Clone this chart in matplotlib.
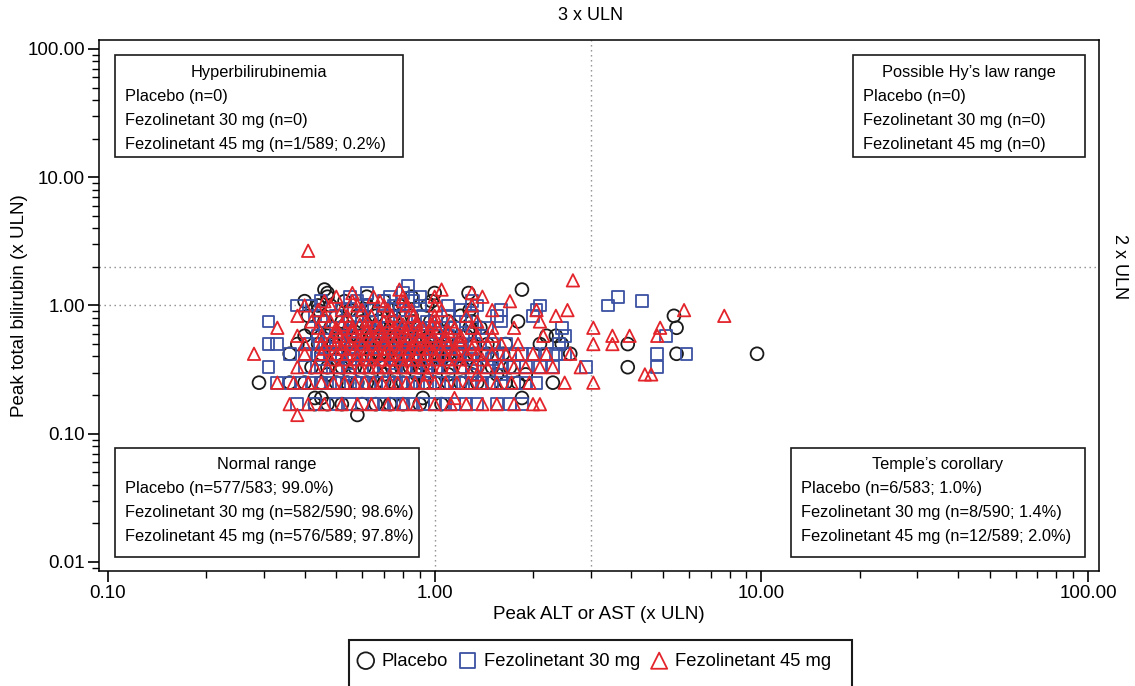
import matplotlib
matplotlib.use("Agg")
import matplotlib.pyplot as plt
from matplotlib.patches import Rectangle
from matplotlib.ticker import LogLocator, FuncFormatter, NullFormatter

plt.rcParams["font.family"] = ["Liberation Sans", "DejaVu Sans"]

# Peak values, grouped by bilirubin level: (y, [x, ...])
placebo = [
    (0.14, [0.58]),
    (0.17, [0.43, 0.47, 0.52, 0.60, 0.66, 0.73, 0.80, 0.90, 1.05]),
    (0.19, [0.43, 0.45, 0.92, 1.85]),
    (0.25, [0.29, 0.36, 0.40, 0.45, 0.50, 0.54, 0.58, 0.62, 0.66, 0.70, 0.75, 0.80,
            0.86, 0.93, 1.0, 1.1, 1.2, 1.35, 1.5, 1.65, 1.8, 2.3]),
    (0.29, [0.47, 0.55, 0.70, 0.88, 1.1, 1.3, 1.55, 1.9]),
    (0.33, [0.42, 0.47, 0.52, 0.57, 0.61, 0.65, 0.70, 0.74, 0.79, 0.84, 0.90, 0.96,
            1.03, 1.12, 1.22, 1.35, 1.5, 1.7, 3.9]),
    (0.38, [0.50, 0.62, 0.75, 0.90, 1.05, 1.25]),
    (0.42, [0.36, 0.45, 0.50, 0.55, 0.60, 0.64, 0.68, 0.72, 0.77, 0.82, 0.88, 0.95,
            1.02, 1.1, 1.2, 1.32, 1.45, 1.62, 2.6, 5.5, 9.7]),
    (0.46, [0.55, 0.70, 0.85, 1.0]),
    (0.50, [0.38, 0.44, 0.49, 0.54, 0.59, 0.63, 0.68, 0.73, 0.78, 0.84, 0.91, 0.98,
            1.07, 1.18, 1.3, 1.45, 1.65, 2.1, 2.45, 3.9]),
    (0.54, [0.60, 0.80, 0.95]),
    (0.58, [0.40, 0.47, 0.53, 0.58, 0.64, 0.70, 0.76, 0.83, 0.91, 1.0, 1.1, 1.25, 1.4,
            2.2, 2.35]),
    (0.67, [0.42, 0.48, 0.55, 0.62, 0.68, 0.75, 0.82, 0.90, 1.0, 1.12, 1.28, 1.38, 5.5]),
    (0.75, [0.46, 0.52, 0.60, 0.68, 0.76, 0.86, 0.97, 1.1, 1.3, 1.8]),
    (0.83, [0.41, 0.50, 0.58, 0.66, 0.75, 0.85, 1.2, 5.4]),
    (0.92, [0.44, 0.55, 0.64, 0.74, 1.28]),
    (1.00, [0.44, 0.48, 0.62, 0.78, 0.95]),
    (1.08, [0.40, 0.53, 0.70, 0.98]),
    (1.17, [0.47, 0.62, 0.85]),
    (1.25, [0.47, 1.0, 1.27]),
    (1.33, [0.46, 1.85]),
]

fezo30 = [
    (0.17, [0.38, 0.43, 0.50, 0.55, 0.60, 0.65, 0.70, 0.75, 0.80, 0.86, 0.92, 1.0,
            1.08, 1.15, 1.25, 1.35, 1.55, 1.7, 1.85]),
    (0.25, [0.33, 0.36, 0.39, 0.42, 0.45, 0.48, 0.51, 0.54, 0.57, 0.60, 0.63, 0.66,
            0.69, 0.72, 0.75, 0.79, 0.83, 0.87, 0.92, 0.97, 1.03, 1.09, 1.15, 1.22,
            1.3, 1.4, 1.5, 1.6, 1.75, 1.9, 2.05]),
    (0.29, [0.55, 0.75, 0.95, 1.3, 1.6]),
    (0.33, [0.31, 0.40, 0.45, 0.50, 0.55, 0.60, 0.65, 0.70, 0.76, 0.82, 0.88, 0.95,
            1.02, 1.1, 1.2, 1.3, 1.45, 1.6, 1.75, 1.9, 2.1, 2.3, 2.9, 4.8]),
    (0.38, [0.45, 0.55, 0.65, 0.75, 0.86, 0.98, 1.12, 1.3, 1.5]),
    (0.42, [0.36, 0.40, 0.44, 0.48, 0.52, 0.56, 0.60, 0.65, 0.70, 0.75, 0.80, 0.86,
            0.93, 1.0, 1.08, 1.17, 1.28, 1.4, 1.55, 1.7, 1.85, 2.0, 2.2, 2.35, 2.5,
            4.8, 5.9]),
    (0.46, [0.50, 0.60, 0.70, 0.80, 0.92, 1.05, 1.2]),
    (0.50, [0.31, 0.33, 0.41, 0.46, 0.51, 0.56, 0.61, 0.66, 0.72, 0.78, 0.85, 0.92,
            1.0, 1.1, 1.2, 1.32, 1.5, 1.65, 2.4]),
    (0.54, [0.47, 0.57, 0.67, 0.78, 0.90, 1.04]),
    (0.58, [0.44, 0.50, 0.56, 0.62, 0.68, 0.75, 0.82, 0.90, 1.0, 1.1, 1.22, 1.4, 2.5, 5.1]),
    (0.63, [0.55, 0.66, 0.78, 0.92]),
    (0.67, [0.46, 0.52, 0.58, 0.65, 0.72, 0.80, 0.90, 1.0, 1.15, 1.3, 1.45, 2.45]),
    (0.75, [0.31, 0.45, 0.55, 0.63, 0.72, 0.82, 0.95, 1.05, 1.25, 1.6]),
    (0.83, [0.43, 0.50, 0.60, 0.70, 0.80, 0.92, 1.1, 1.3, 1.55, 2.0]),
    (0.92, [0.52, 0.64, 0.78, 1.2, 1.6, 2.05]),
    (1.00, [0.38, 0.42, 0.60, 0.75, 0.90, 1.1, 1.35, 2.1, 3.4]),
    (1.08, [0.45, 0.58, 0.70, 0.86, 1.3, 4.3]),
    (1.17, [0.55, 0.73, 0.90, 3.65]),
    (1.25, [0.62, 0.80]),
    (1.42, [0.83]),
]

fezo45 = [
    (0.14, [0.38]),
    (0.17, [0.36, 0.41, 0.46, 0.52, 0.58, 0.64, 0.72, 0.80, 0.88, 1.0, 1.12, 1.25,
            1.4, 1.55, 1.75, 2.0, 2.1]),
    (0.19, [1.15]),
    (0.25, [0.33, 0.37, 0.41, 0.45, 0.49, 0.53, 0.57, 0.61, 0.65, 0.69, 0.73, 0.77,
            0.82, 0.87, 0.93, 1.0, 1.08, 1.17, 1.27, 1.4, 1.55, 1.72, 1.95, 2.5, 3.06]),
    (0.29, [0.95, 1.35, 4.4, 4.6]),
    (0.33, [0.38, 0.43, 0.47, 0.51, 0.55, 0.59, 0.63, 0.67, 0.71, 0.75, 0.80, 0.85,
            0.91, 0.98, 1.05, 1.13, 1.22, 1.32, 1.45, 1.6, 1.75, 1.9, 2.1, 2.3, 2.8]),
    (0.38, [0.48, 0.53, 0.58, 0.63, 0.68, 0.73, 0.79, 0.85, 0.92, 1.0, 1.1, 1.2, 1.4]),
    (0.42, [0.28, 0.40, 0.45, 0.50, 0.54, 0.58, 0.62, 0.66, 0.70, 0.74, 0.78, 0.83,
            0.88, 0.94, 1.0, 1.07, 1.15, 1.25, 1.35, 1.5, 1.65, 1.8, 2.0, 2.2, 2.6]),
    (0.46, [0.46, 0.52, 0.57, 0.62, 0.67, 0.72, 0.78, 0.84, 0.90, 0.97, 1.05, 1.15, 1.3]),
    (0.50, [0.40, 0.45, 0.50, 0.55, 0.60, 0.65, 0.70, 0.75, 0.81, 0.87, 0.94, 1.02,
            1.1, 1.2, 1.32, 1.45, 1.6, 1.8, 3.06, 3.5]),
    (0.54, [0.48, 0.53, 0.59, 0.64, 0.70, 0.76, 0.83, 0.90, 0.98, 1.08, 1.2]),
    (0.58, [0.38, 0.45, 0.51, 0.57, 0.63, 0.69, 0.75, 0.82, 0.90, 0.99, 1.08, 1.2,
            1.35, 1.5, 2.15, 3.5, 3.95, 4.8]),
    (0.63, [0.50, 0.56, 0.62, 0.68, 0.74, 0.81, 0.89, 0.97, 1.1]),
    (0.67, [0.33, 0.44, 0.50, 0.56, 0.62, 0.68, 0.75, 0.83, 0.92, 1.02, 1.15, 1.3,
            1.5, 1.75, 3.06, 4.9]),
    (0.71, [0.52, 0.59, 0.66, 0.73, 0.80, 0.88, 0.98]),
    (0.75, [0.42, 0.48, 0.55, 0.62, 0.70, 0.78, 0.88, 1.0, 1.12, 1.35, 2.1]),
    (0.83, [0.38, 0.46, 0.54, 0.64, 0.74, 0.86, 1.0, 1.25, 2.35, 7.7]),
    (0.92, [0.44, 0.52, 0.60, 0.72, 0.85, 1.05, 1.5, 2.05, 2.55, 5.8]),
    (1.00, [0.40, 0.48, 0.58, 0.70, 0.82, 1.0, 1.3]),
    (1.08, [0.46, 0.56, 0.68, 0.80, 1.7]),
    (1.17, [0.50, 0.65, 0.80, 1.0, 1.4]),
    (1.25, [0.56, 1.3]),
    (1.33, [0.78, 1.05]),
    (1.57, [2.65]),
    (2.67, [0.41]),
]

series_names = ["Placebo", "Fezolinetant 30 mg", "Fezolinetant 45 mg"]

W, H = 1135, 686


def fx(px):
    return px / W


def fy(py):
    return 1 - py / H


fig = plt.figure(figsize=(W / 100, H / 100), dpi=100)
ax = fig.add_axes([fx(99), fy(571), 1000 / W, 531 / H])

styles = [("o", "#1a1a1a", 85), ("s", "#3b52a3", 72), ("^", "#e3242b", 80)]
for name, rows, (marker, color, size) in zip(series_names, [placebo, fezo30, fezo45], styles):
    xs = [x for y, row in rows for x in row]
    ys = [y for y, row in rows for x in row]
    ax.scatter(xs, ys, marker=marker, facecolors="none", edgecolors=color,
               s=size, linewidths=1.3, label=name, zorder=3)

ax.set_xscale("log")
ax.set_yscale("log")
xmin, xmax = 0.0939, 108
ymin, ymax = 0.0085, 117.5
ax.set_xlim(xmin, xmax)
ax.set_ylim(ymin, ymax)

# reference lines
dots = dict(color="#8a8a8a", lw=1.0, ls=(0, (1, 2.6)), zorder=1)
ax.axvline(3, **dots)
ax.axhline(2, **dots)
ax.hlines(1, xmin, 1, **dots)
ax.vlines(1, ymin, 1, **dots)

# ticks
fmt = FuncFormatter(lambda v, p: f"{v:.2f}")
for axis in (ax.xaxis, ax.yaxis):
    axis.set_major_locator(LogLocator(base=10, numticks=10))
    axis.set_minor_locator(LogLocator(base=10, subs=range(2, 10), numticks=20))
    axis.set_major_formatter(fmt)
    axis.set_minor_formatter(NullFormatter())
ax.tick_params(which="major", length=8, width=1.2, labelsize=13.5, pad=2)
ax.tick_params(which="minor", length=5, width=1.0)
for s in ax.spines.values():
    s.set_linewidth(1.1)

ax.set_xlabel("Peak ALT or AST (x ULN)", fontsize=13.5)
ax.set_ylabel("Peak total bilirubin (x ULN)", fontsize=13.5)
ax.xaxis.set_label_coords(0.5, -0.066)
ax.yaxis.set_label_coords(-0.071, 0.5)

ax.annotate("3 x ULN", xy=(3, 1), xycoords=("data", "axes fraction"),
            xytext=(0, 18), textcoords="offset points",
            ha="center", va="center", fontsize=13)
ax.annotate("2 x ULN", xy=(1, 2), xycoords=("axes fraction", "data"),
            xytext=(15, 0), textcoords="offset points",
            ha="center", va="center", rotation=-90, fontsize=13)

# annotation boxes: (left, top, right, bottom, title, lines)
boxes = [
    (115, 55, 403, 157, "Hyperbilirubinemia",
     ["Placebo (n=0)", "Fezolinetant 30 mg (n=0)", "Fezolinetant 45 mg (n=1/589; 0.2%)"]),
    (853, 55, 1085, 157, "Possible Hy\u2019s law range",
     ["Placebo (n=0)", "Fezolinetant 30 mg (n=0)", "Fezolinetant 45 mg (n=0)"]),
    (115, 448, 419, 557, "Normal range",
     ["Placebo (n=577/583; 99.0%)", "Fezolinetant 30 mg (n=582/590; 98.6%)",
      "Fezolinetant 45 mg (n=576/589; 97.8%)"]),
    (791, 448, 1085, 557, "Temple\u2019s corollary",
     ["Placebo (n=6/583; 1.0%)", "Fezolinetant 30 mg (n=8/590; 1.4%)",
      "Fezolinetant 45 mg (n=12/589; 2.0%)"]),
]
for l, t, r, b, title, lines in boxes:
    fig.patches.append(Rectangle((fx(l), fy(b)), (r - l) / W, (b - t) / H,
                                 transform=fig.transFigure, fill=False,
                                 edgecolor="#1a1a1a", lw=1.2, zorder=5))
    fig.text(fx((l + r) / 2), fy(t + 17), title, ha="center", va="center", fontsize=11.8)
    for i, line in enumerate(lines):
        fig.text(fx(l + 10), fy(t + 41 + 24 * i), line, ha="left", va="center", fontsize=11.8)

# legend
handles, labels = ax.get_legend_handles_labels()
fig.legend(handles, labels, loc="center", bbox_to_anchor=(fx(594), fy(661)),
           ncol=3, frameon=False, fontsize=13.2, handletextpad=0.38,
           columnspacing=0.55, markerscale=1.3, handlelength=1.0)
fig.patches.append(Rectangle((fx(349), fy(710)), (852 - 349) / W, 70 / H,
                             transform=fig.transFigure, fill=False,
                             edgecolor="#1a1a1a", lw=1.5, clip_on=False))

fig.savefig("out.png", dpi=100)
plt.close(fig)
